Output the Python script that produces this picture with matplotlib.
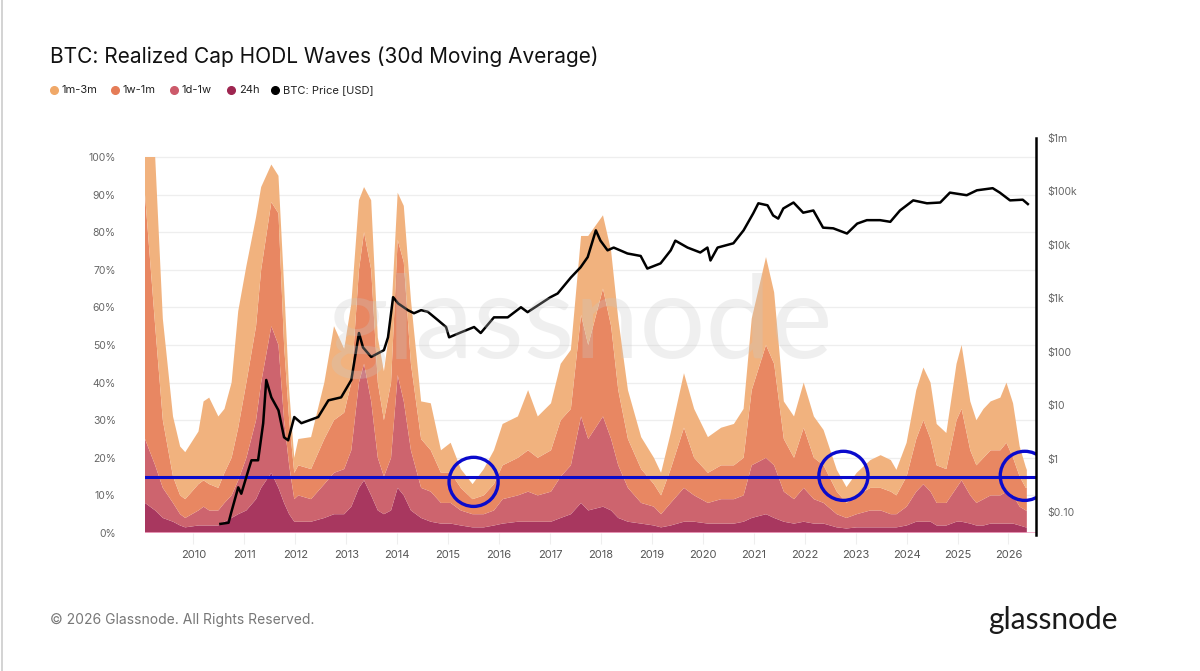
import matplotlib
matplotlib.use("Agg")
import matplotlib.pyplot as plt
from matplotlib.lines import Line2D
from matplotlib.ticker import FixedLocator, FixedFormatter, NullLocator
import numpy as np

plt.rcParams['font.family'] = ['Inter', 'DejaVu Sans']

# ---------------- data ----------------
wave_dates = [2009.05, 2009.25, 2009.40, 2009.60, 2009.74, 2009.84, 2010.10, 2010.20, 2010.31, 2010.49,
              2010.61, 2010.75, 2010.88, 2011.04, 2011.23, 2011.33, 2011.53, 2011.67, 2011.78, 2011.88,
              2011.98, 2012.06, 2012.31, 2012.57, 2012.76, 2012.96, 2013.10, 2013.25, 2013.35, 2013.49,
              2013.62, 2013.74, 2013.88, 2014.01, 2014.13, 2014.27, 2014.47, 2014.66, 2014.86, 2015.05,
              2015.25, 2015.48, 2015.70, 2015.90, 2016.07, 2016.37, 2016.57, 2016.76, 2017.02, 2017.21,
              2017.41, 2017.61, 2017.75, 2018.04, 2018.20, 2018.34, 2018.53, 2018.79, 2019.04, 2019.18,
              2019.37, 2019.63, 2019.83, 2020.10, 2020.36, 2020.61, 2020.80, 2020.96, 2021.24, 2021.40,
              2021.59, 2021.79, 2021.98, 2022.18, 2022.37, 2022.63, 2022.82, 2023.02, 2023.29, 2023.49,
              2023.69, 2023.80, 2024.00, 2024.19, 2024.33, 2024.47, 2024.59, 2024.78, 2024.98, 2025.08,
              2025.25, 2025.37, 2025.51, 2025.65, 2025.84, 2025.96, 2026.09, 2026.22, 2026.34, 2026.36]

band_1m_3m = [10, 45, 27, 16, 13, 12.5, 14, 21, 23, 19,
              17, 20, 31, 31, 29, 22, 10, 10, 16, 8,
              4, 7, 8.5, 15, 25, 17, 21, 18.5, 12, 18.5,
              12, 13, 17, 12.5, 15, 17, 10, 12.5, 6, 8,
              5, 4, 7, 9, 11, 11, 16, 11, 12.5, 15,
              15.7, 21, 29, 19.5, 20, 19, 13, 8.5, 7, 6,
              9.6, 14.5, 13, 9.5, 10, 11, 13, 19, 23.4, 19,
              10, 11, 12, 11, 9.4, 5.8, 4.2, 6, 7.4, 8.7,
              8.4, 6.8, 9, 13, 14, 15, 11, 9.6, 15, 17,
              13, 12, 13, 13, 14, 16, 14.5, 8, 5.5, 4.8]

band_1w_1m = [65, 37, 18, 7, 5, 5, 7, 7, 7, 6,
              8, 10, 14, 20, 25, 30, 33, 35, 20, 12,
              7, 8, 8, 12, 14, 15, 18, 30, 35, 35,
              20, 15, 20, 36, 37, 23, 13, 11, 8, 8,
              6, 4, 5, 7, 9, 10, 11, 10, 11, 15,
              15, 27, 25, 34, 30, 20, 13, 9, 6, 5,
              9, 16, 10, 8, 9, 9, 10, 20, 30, 27,
              14, 11, 16, 11, 10, 6, 4, 5, 6, 6,
              6, 5, 8, 14, 17, 14, 10, 9, 18, 19,
              12, 10, 11, 12, 12, 13, 10, 8, 6, 6]

band_1d_1w = [17, 12, 8, 5, 3, 2.5, 4, 5, 4, 4,
              5, 6, 9, 14, 21, 28, 39, 38, 22, 13,
              6, 7, 6, 9, 11, 12, 15, 28, 31, 25,
              14, 10, 14, 30, 25, 16, 8, 8, 5.5, 5.5,
              4, 3.5, 3.5, 4, 6.5, 7, 8, 7, 8, 11,
              13, 23, 19, 24, 19, 14, 9, 5.5, 5, 3.5,
              6, 9, 7, 5.5, 6.5, 6.5, 7, 14, 15, 14,
              8, 6.5, 9, 6.5, 5.5, 3.5, 2.8, 3.5, 4.5, 4.5,
              3.5, 3.5, 5, 8, 10, 8, 6, 6, 9, 11,
              7.5, 6, 7, 7.5, 7.5, 8.5, 7.5, 5, 4.5, 4.5]

band_24h = [8, 6, 4, 3, 2, 1.5, 2, 2, 2, 2,
            3, 4, 5, 6, 9, 12, 16, 12, 8, 5,
            3, 3, 3, 4, 5, 5, 7, 12, 14, 10,
            6, 5, 6, 12, 10, 6, 4, 3, 2.5, 2.5,
            2, 1.5, 1.5, 2, 2.5, 3, 3, 3, 3, 4,
            5, 8, 6, 7, 6, 4, 3, 2.5, 2, 1.5,
            2, 3, 3, 2.5, 2.5, 2.5, 3, 4, 5, 4,
            3, 2.5, 3, 2.5, 2.5, 1.5, 1.2, 1.5, 1.5, 1.5,
            1.5, 1.5, 2, 3, 3, 3, 2, 2, 3, 3,
            2.5, 2, 2, 2.5, 2.5, 2.5, 2.5, 2, 1.5, 1.5]

price_dates = [2010.53, 2010.69, 2010.74, 2010.88, 2010.94, 2011.08, 2011.14, 2011.27, 2011.37, 2011.43,
               2011.53, 2011.67, 2011.78, 2011.86, 2011.98, 2012.12, 2012.45, 2012.65, 2012.90, 2013.10,
               2013.25, 2013.33, 2013.49, 2013.74, 2013.82, 2013.92, 2014.02, 2014.21, 2014.33, 2014.47,
               2014.60, 2014.80, 2014.96, 2015.02, 2015.25, 2015.51, 2015.64, 2015.90, 2016.17, 2016.43,
               2016.56, 2016.82, 2017.01, 2017.15, 2017.41, 2017.60, 2017.74, 2017.90, 2017.99, 2018.13,
               2018.25, 2018.52, 2018.78, 2018.91, 2019.17, 2019.37, 2019.46, 2019.70, 2019.95, 2020.09,
               2020.15, 2020.29, 2020.60, 2020.80, 2020.99, 2021.09, 2021.27, 2021.38, 2021.48, 2021.58,
               2021.78, 2021.97, 2022.17, 2022.36, 2022.56, 2022.83, 2023.03, 2023.22, 2023.48, 2023.68,
               2023.87, 2024.13, 2024.40, 2024.66, 2024.85, 2025.18, 2025.38, 2025.69, 2025.83, 2026.03,
               2026.28, 2026.38]

price_usd = [0.06, 0.063, 0.096, 0.29, 0.22, 0.61, 0.93, 0.93, 4.6, 29.6,
             14, 8, 2.5, 2.2, 6, 4.6, 6, 12.3, 14, 29.6,
             224, 120, 80, 107, 186, 1050, 800, 600, 525, 600,
             560, 390, 290, 186, 230, 290, 224, 440, 440, 680,
             550, 800, 1050, 1230, 2450, 3800, 5900, 18700, 12000, 7900,
             8900, 6900, 6200, 3600, 4500, 7900, 12000, 8900, 7200, 8900,
             5100, 8900, 10700, 18700, 39000, 60000, 55000, 35500, 31000, 48000,
             62000, 40000, 44000, 21000, 20400, 16300, 25000, 29000, 29000, 27000,
             44000, 68000, 60000, 62000, 95000, 85000, 105000, 115000, 95000, 68000,
             70000, 58000]

threshold_pct = 15
highlight_dates = [2015.50, 2022.76, 2026.32]
highlight_levels = [13.6, 15.2, 15.2]

year_ticks = list(range(2010, 2027))
pct_ticks = list(range(0, 101, 10))
pct_labels = [f"{p}%" for p in pct_ticks]
price_ticks = [0.1, 1, 10, 100, 1e3, 1e4, 1e5, 1e6]
price_labels = ["$0.10", "$1", "$10", "$100", "$1k", "$10k", "$100k", "$1m"]

series_names = ["1m-3m", "1w-1m", "1d-1w", "24h", "BTC: Price [USD]"]
legend_colors = ["#F0A868", "#E57C57", "#CC5A6A", "#9E2650", "#000000"]
area_colors = ["#A8375F", "#CD646E", "#E88762", "#F1B27E"]  # 24h, 1d-1w, 1w-1m, 1m-3m

# ---------------- figure ----------------
W, H = 1200, 671
fig = plt.figure(figsize=(W / 100, H / 100), dpi=100)

def fx(px):
    return px / W

def fy(py):
    return 1 - py / H

ax_left, ax_right, ax_top, ax_bot = 145, 1036, 138, 533
ax = fig.add_axes([fx(ax_left), fy(ax_bot), fx(ax_right - ax_left), (ax_bot - ax_top) / H])
ax.set_xlim(2009.05, 2026.54)
ax.set_ylim(0, (ax_bot - ax_top) / 3.76)

for p in pct_ticks:
    ax.axhline(p, color="#eeeeee", lw=0.9, zorder=0)

ax.stackplot(wave_dates, band_24h, band_1d_1w, band_1w_1m, band_1m_3m,
             colors=area_colors, linewidth=0, zorder=1)
ax.axhline(0, color="#f2a6c4", lw=1.2, zorder=2)

ax.set_yticks(pct_ticks)
ax.set_yticklabels(pct_labels)
ax.tick_params(axis="y", length=0, pad=21, labelsize=7.5, labelcolor="#666666")
ax.set_xticks(year_ticks)
ax.set_xticklabels([str(y) for y in year_ticks])
ax.tick_params(axis="x", length=8, width=0.8, color="#eeeeee", pad=4, labelsize=8, labelcolor="#555555")
for s in ["left", "top", "right", "bottom"]:
    ax.spines[s].set_visible(False)

ax.axhline(threshold_pct, color="#0a0acc", lw=2.2, zorder=6)
ax.scatter(highlight_dates, highlight_levels, s=1250, facecolors="none",
           edgecolors="#0a0acc", linewidths=2.4, zorder=7)

ax2 = ax.twinx()
ax2.set_yscale("log")
ax2.set_ylim(10 ** -1.3925, 10 ** 6.0)
ax2.plot(price_dates, price_usd, color="black", lw=1.8, zorder=5)
ax2.yaxis.set_major_locator(FixedLocator(price_ticks))
ax2.yaxis.set_major_formatter(FixedFormatter(price_labels))
ax2.yaxis.set_minor_locator(NullLocator())
ax2.tick_params(axis="y", length=0, pad=8, labelsize=7.5, labelcolor="#666666")
for s in ["left", "top", "bottom"]:
    ax2.spines[s].set_visible(False)
ax2.spines["right"].set_color("black")
ax2.spines["right"].set_linewidth(1.8)
ax2.spines["right"].set_bounds(10 ** -1.43, 10 ** 6.0)

# watermark
fig.text(fx(580), fy(326), "glassnode", fontsize=84, color="#c8c8c8", alpha=0.28,
         ha="center", va="center", family=["Lato", "DejaVu Sans"], zorder=20)

# title
fig.text(fx(50), fy(57), "BTC: Realized Cap HODL Waves (30d Moving Average)",
         fontsize=15, color="#111111", ha="left", va="center")

# legend
leg_x = [54, 115, 174, 231, 275]
for xpos, name, col in zip(leg_x, series_names, legend_colors):
    fig.add_artist(Line2D([fx(xpos)], [fy(90)], marker="o", markersize=5.5,
                          color=col, linestyle="none", transform=fig.transFigure))
    fig.text(fx(xpos + 8), fy(90), name, fontsize=8, color="#222222", ha="left", va="center")

# footer
fig.text(fx(50), fy(620), "\u00a9 2026 Glassnode. All Rights Reserved.", fontsize=10,
         color="#777777", ha="left", va="center")
fig.text(fx(1118), fy(620), "glassnode", fontsize=21.5, color="#1a1a1a", ha="right",
         va="center", family=["Lato", "DejaVu Sans"])

# left border line
fig.add_artist(Line2D([fx(1.5), fx(1.5)], [0, 1], color="#cccccc", lw=1.2, transform=fig.transFigure))

fig.savefig("out.png", dpi=100)
